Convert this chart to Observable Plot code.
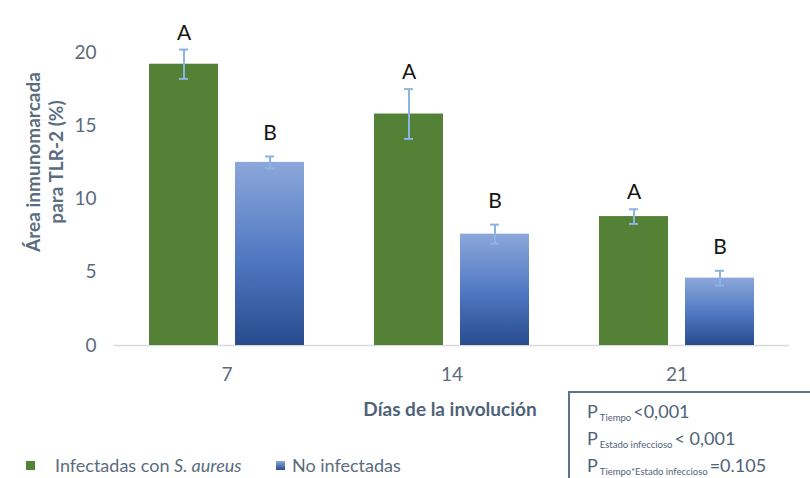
<!DOCTYPE html>
<html>
<head>
<meta charset="utf-8">
<script src="https://cdn.jsdelivr.net/npm/d3@7"></script>
<script src="https://cdn.jsdelivr.net/npm/@observablehq/plot@0.6"></script>
<style>
  body { margin: 0; background: #fff; }
  #wrap { position: relative; width: 810px; height: 478px; overflow: hidden; font-family: Lato, "Open Sans", sans-serif; }
  #wrap svg { position: absolute; left: 0; top: 0; }
  .ylab { position: absolute; left: -86.5px; top: 139px; width: 260px; height: 46px; line-height: 23px;
          text-align: center; transform: rotate(-90deg); transform-origin: 50% 50%;
          font-size: 19px; font-weight: bold; color: #5a6c7f; white-space: nowrap; }
  .xlab { position: absolute; left: 300px; top: 397px; width: 300px; text-align: center;
          font-size: 19px; font-weight: bold; color: #4f6378; }
  .lg { position: absolute; top: 454px; font-size: 18px; line-height: 22px; color: #5a6c80; white-space: nowrap; }
  .sw { position: absolute; top: 461px; width: 9px; height: 9px; }
  .pbox { position: absolute; left: 568px; top: 391px; width: 270px; height: 110px;
          border: 2px solid #5f7388; box-sizing: border-box; padding: 8px 0 0 17px;
          color: #4f6279; font-size: 18px; line-height: 21px; }
  .pbox sub { font-size: 9.5px; vertical-align: -3px; margin: 0 2px 0 2px; }
</style>
</head>
<body>
<div id="wrap"></div>
<script>
// ---- data ----
const days = [7, 14, 21];
const groups = ["Infectadas con S. aureus", "No infectadas"];
const infectadas = [19.2, 15.8, 8.8];
const infectadasErr = [1.0, 1.7, 0.5];
const noInfectadas = [12.5, 7.6, 4.6];
const noInfectadasErr = [0.4, 0.65, 0.5];
const letrasInfectadas = ["A", "A", "A"];
const letrasNoInfectadas = ["B", "B", "B"];
const yTicks = [0, 5, 10, 15, 20];
const yLabel = ["Área inmunomarcada", "para TLR-2 (%)"];
const xLabel = "Días de la involución";
const pLines = [
  ["Tiempo", "<0,001"],
  ["Estado infeccioso", "< 0,001"],
  ["Tiempo*Estado infeccioso", "=0.105"]
];

const rows = [];
days.forEach((d, i) => {
  rows.push({day: d, group: groups[0], value: infectadas[i], err: infectadasErr[i], letter: letrasInfectadas[i]});
  rows.push({day: d, group: groups[1], value: noInfectadas[i], err: noInfectadasErr[i], letter: letrasNoInfectadas[i]});
});
const rowsInf = rows.filter(r => r.group === groups[0]);
const rowsNo = rows.filter(r => r.group === groups[1]);

const defs = () => {
  const ns = "http://www.w3.org/2000/svg";
  const g = document.createElementNS(ns, "defs");
  g.innerHTML = `<linearGradient id="blueGrad" x1="0" y1="0" x2="0" y2="1">
    <stop offset="0" stop-color="#8ca8db"/>
    <stop offset="0.55" stop-color="#4d76c1"/>
    <stop offset="1" stop-color="#284b8c"/>
  </linearGradient>`;
  return g;
};

const errColor = "#8db3e2";
const letterStyle = {fx: "day", x: "group", y: d => d.value + d.err, text: "letter",
  lineAnchor: "bottom", fontSize: 21, fill: "#151515"};

const chart = Plot.plot({
  width: 810,
  height: 478,
  marginLeft: 113,
  marginRight: 20.5,
  marginTop: 52,
  marginBottom: 133,
  style: {fontFamily: "Lato, 'Open Sans', sans-serif", fontSize: "19px", color: "#5b6b7c", background: "transparent"},
  fx: {domain: days, padding: 0, axis: "bottom", tickSize: 0, tickPadding: 22, label: null},
  x: {domain: groups, paddingInner: 0.195, paddingOuter: 0.394, axis: null},
  y: {domain: [0, 20], ticks: yTicks, tickSize: 0, tickPadding: 18, label: null},
  color: {domain: groups, range: ["#538135", "url(#blueGrad)"]},
  marks: [
    defs,
    Plot.ruleY([0], {stroke: "#d9d9d9", strokeWidth: 1.5}),
    Plot.barY(rows, {fx: "day", x: "group", y: "value", fill: "group"}),
    Plot.ruleX(rows, {fx: "day", x: "group", y1: d => d.value - d.err, y2: d => d.value + d.err, stroke: errColor, strokeWidth: 2}),
    Plot.tickY(rows, {fx: "day", x: "group", y: d => d.value + d.err, stroke: errColor, strokeWidth: 2, insetLeft: 30, insetRight: 30}),
    Plot.tickY(rows, {fx: "day", x: "group", y: d => d.value - d.err, stroke: errColor, strokeWidth: 2, insetLeft: 30, insetRight: 30}),
    Plot.text(rowsInf, {...letterStyle, dy: -10}),
    Plot.text(rowsNo, {...letterStyle, dy: -17})
  ]
});

const wrap = document.getElementById("wrap");
wrap.appendChild(chart);

const yl = document.createElement("div");
yl.className = "ylab";
yl.innerHTML = yLabel.join("<br>");
wrap.appendChild(yl);

const xl = document.createElement("div");
xl.className = "xlab";
xl.textContent = xLabel;
wrap.appendChild(xl);

const legendHTML =
  `<span class="sw" style="left:26px;background:#538135"></span>` +
  `<span class="lg" style="left:55px">Infectadas con <i>S. aureus</i></span>` +
  `<span class="sw" style="left:276px;background:linear-gradient(#8ca8db,#284b8c)"></span>` +
  `<span class="lg" style="left:292px">${groups[1]}</span>`;
const lg = document.createElement("div");
lg.innerHTML = legendHTML;
wrap.appendChild(lg);

const pb = document.createElement("div");
pb.className = "pbox";
pb.innerHTML = pLines.map(([s, v]) => `<div>P<sub>${s}</sub>${v}</div>`).join("");
wrap.appendChild(pb);
</script>
</body>
</html>
